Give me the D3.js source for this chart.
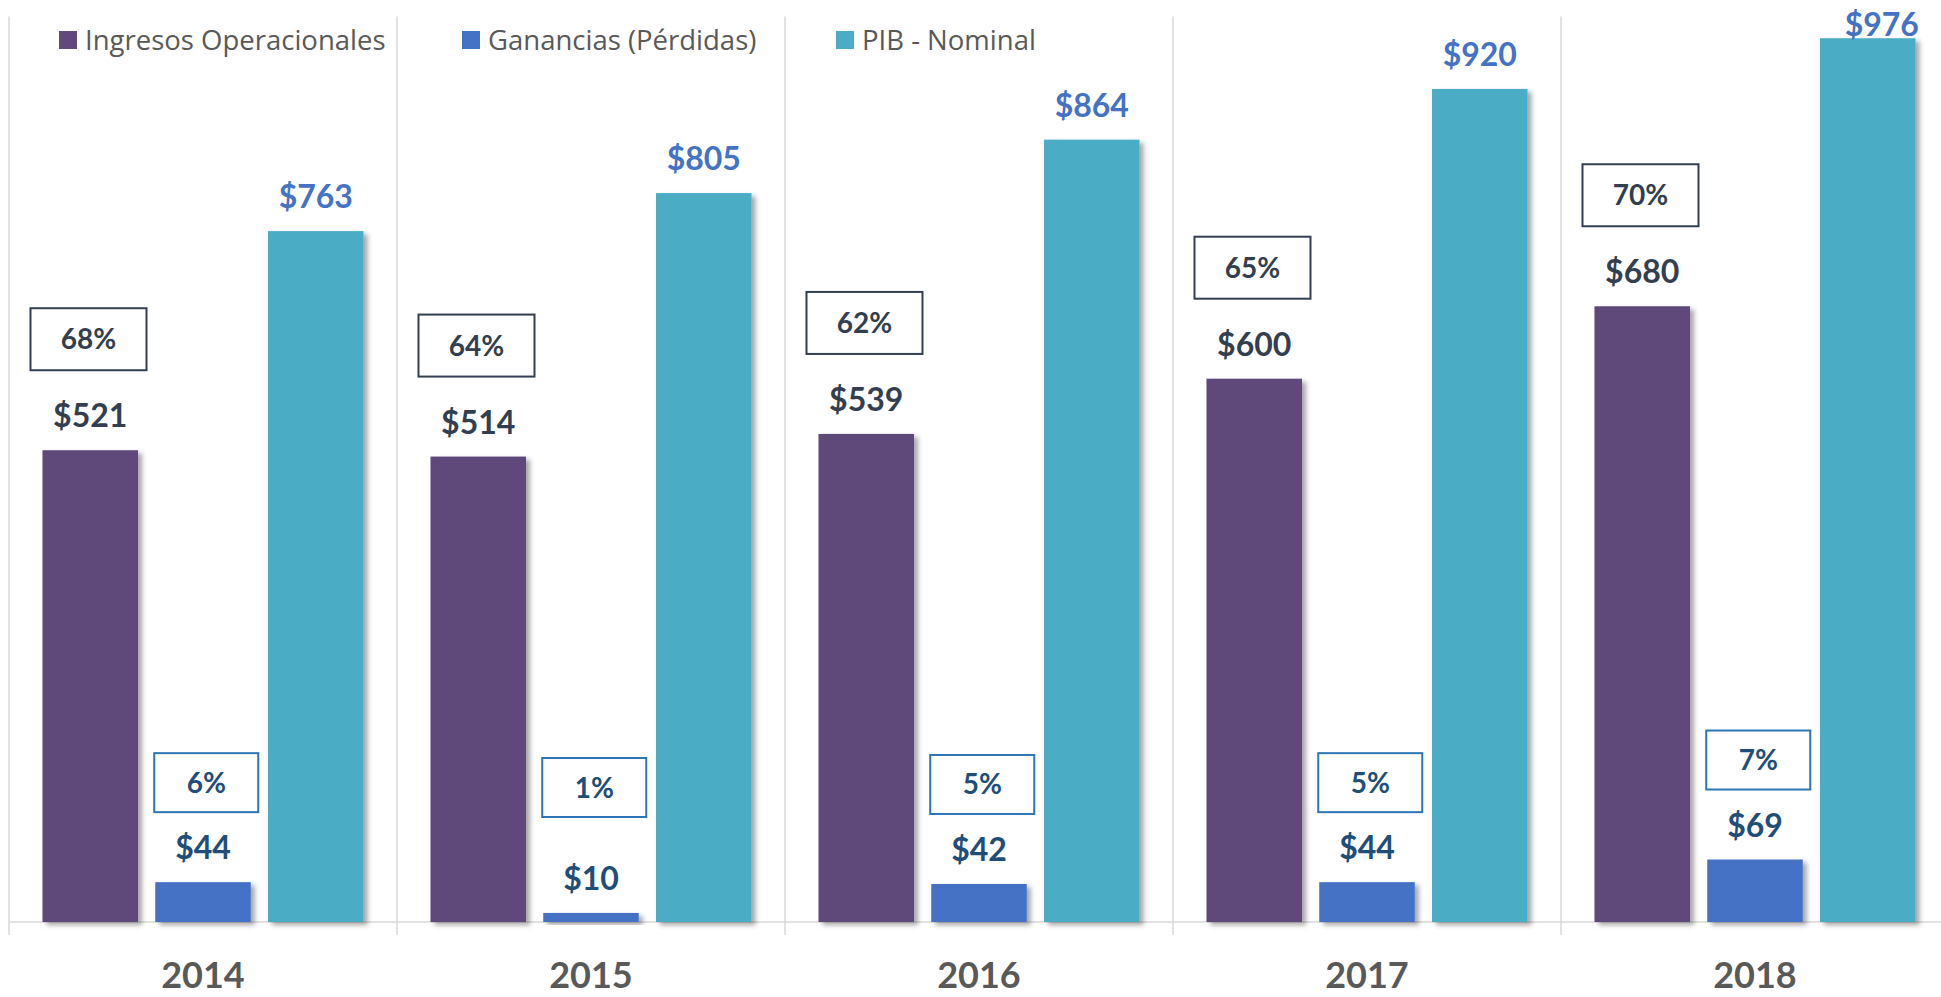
<!DOCTYPE html>
<html>
<head>
<meta charset="utf-8">
<script src="https://cdn.jsdelivr.net/npm/d3@7"></script>
<style>
    body { margin: 0; background: #fff; }
    svg { display: block; }
</style>
</head>
<body>
<div id="chart"></div>
<script>
// values (billions)
let years = ["2014", "2015", "2016", "2017", "2018"];
let seriesNames = ["Ingresos Operacionales", "Ganancias (Pérdidas)", "PIB - Nominal"];
let ingresos = [521, 514, 539, 600, 680];
let ganancias = [44, 10, 42, 44, 69];
let pib = [763, 805, 864, 920, 976];
let ingresosPct = ["68%", "64%", "62%", "65%", "70%"];
let gananciasPct = ["6%", "1%", "5%", "5%", "7%"];

let colors = ["#5F497A", "#4472C4", "#4BACC6"];
let labelColors = ["#333F50", "#1F4E79", "#4472C4"];

let width = 1941, height = 997;
let plot = {left: 9, right: 1949, top: 16.5, bottom: 922};

let svg = d3.select("#chart")
    .append("svg")
    .attr("width", width)
    .attr("height", height);

// soft shadow like the excel bars
let defs = svg.append("defs");
let filter = defs.append("filter")
    .attr("id", "shadow")
    .attr("x", "-20%").attr("y", "-20%")
    .attr("width", "150%").attr("height", "150%");
filter.append("feDropShadow")
    .attr("dx", 4).attr("dy", 3)
    .attr("stdDeviation", 2.5)
    .attr("flood-color", "#000")
    .attr("flood-opacity", 0.35);

let x = d3.scaleBand()
    .domain(years)
    .range([plot.left, plot.right])
    .padding(0);

let xInner = d3.scaleBand()
    .domain(seriesNames)
    .range([0, x.bandwidth()])
    .paddingInner(0.153)
    .paddingOuter(0.297);

let y = d3.scaleLinear()
    .domain([0, 1000])
    .range([plot.bottom, plot.top]);

// vertical separators + baseline
let grid = svg.append("g");
let edges = years.map(d => x(d)).concat([x(years[years.length - 1]) + x.bandwidth()]);
grid.selectAll("line.sep")
    .data(edges)
    .enter()
    .append("line")
    .attr("x1", d => d).attr("x2", d => d)
    .attr("y1", plot.top).attr("y2", plot.bottom + 13)
    .attr("stroke", "#D9D9D9")
    .attr("stroke-width", 1.5);
grid.append("line")
    .attr("x1", plot.left).attr("x2", plot.right)
    .attr("y1", plot.bottom).attr("y2", plot.bottom)
    .attr("stroke", "#D9D9D9")
    .attr("stroke-width", 1.5);

let rows = years.map((yr, i) => ({
    year: yr,
    values: [ingresos[i], ganancias[i], pib[i]],
    pcts: [ingresosPct[i], gananciasPct[i]]
}));

let groups = svg.selectAll("g.year")
    .data(rows)
    .enter()
    .append("g")
    .attr("class", "year")
    .attr("transform", d => `translate(${x(d.year)}, 0)`);

// bars
groups.selectAll("rect.bar")
    .data(d => d.values.map((v, k) => ({name: seriesNames[k], k: k, v: v})))
    .enter()
    .append("rect")
    .attr("class", "bar")
    .attr("x", d => xInner(d.name))
    .attr("y", d => y(d.v))
    .attr("width", xInner.bandwidth())
    .attr("height", d => y(0) - y(d.v))
    .attr("fill", d => colors[d.k])
    .attr("filter", "url(#shadow)");

// value labels (pushed down / right when they would leave the plot top)
groups.selectAll("text.val")
    .data(d => d.values.map((v, k) => ({name: seriesNames[k], k: k, v: v})))
    .enter()
    .append("text")
    .attr("class", "val")
    .attr("x", d => xInner(d.name) + xInner.bandwidth() / 2 + (y(d.v) - 23 < 36 ? 14 : 0))
    .attr("y", d => Math.max(y(d.v) - 23, 36))
    .attr("text-anchor", "middle")
    .style("font-family", "Lato, sans-serif")
    .style("font-weight", "bold")
    .style("font-size", "32px")
    .style("fill", d => labelColors[d.k])
    .text(d => "$" + d.v);

// percentage boxes
function boxGeom(d, k) {
    let left = xInner(seriesNames[k]);
    if (k === 0) {
        let bottom = y(d.values[0]) - 80;
        return {x: left - 12, y: bottom - 62, w: 116, h: 62};
    }
    let bottom = Math.min(y(d.values[1]) - 70, y(0) - 105);
    return {x: left - 1, y: bottom - 59, w: 104, h: 59};
}

let boxColors = ["#333F50", "#2E75B6"];

[0, 1].forEach(k => {
    groups.append("rect")
        .attr("x", d => boxGeom(d, k).x)
        .attr("y", d => boxGeom(d, k).y)
        .attr("width", d => boxGeom(d, k).w)
        .attr("height", d => boxGeom(d, k).h)
        .attr("fill", "#fff")
        .attr("stroke", boxColors[k])
        .attr("stroke-width", 2);
    groups.append("text")
        .attr("x", d => boxGeom(d, k).x + boxGeom(d, k).w / 2)
        .attr("y", d => boxGeom(d, k).y + boxGeom(d, k).h / 2 + 10)
        .attr("text-anchor", "middle")
        .style("font-family", "Lato, sans-serif")
        .style("font-weight", "bold")
        .style("font-size", "28px")
        .style("fill", labelColors[k])
        .text(d => d.pcts[k]);
});

// x axis year labels
svg.append("g")
    .selectAll("text")
    .data(years)
    .enter()
    .append("text")
    .attr("x", d => x(d) + x.bandwidth() / 2)
    .attr("y", 988)
    .attr("text-anchor", "middle")
    .style("font-family", "Lato, sans-serif")
    .style("font-weight", "bold")
    .style("font-size", "36px")
    .style("fill", "#595959")
    .text(d => d);

// legend
let legendX = [59, 462, 836];
let legend = svg.append("g")
    .selectAll("g")
    .data(seriesNames)
    .enter()
    .append("g")
    .attr("transform", (d, i) => `translate(${legendX[i]}, 31)`);
legend.append("rect")
    .attr("width", 18)
    .attr("height", 18)
    .attr("fill", (d, i) => colors[i]);
legend.append("text")
    .attr("x", 26)
    .attr("y", 19)
    .style("font-family", "'Open Sans', sans-serif")
    .style("font-size", "27.5px")
    .style("fill", "#595959")
    .text(d => d);
</script>
</body>
</html>
